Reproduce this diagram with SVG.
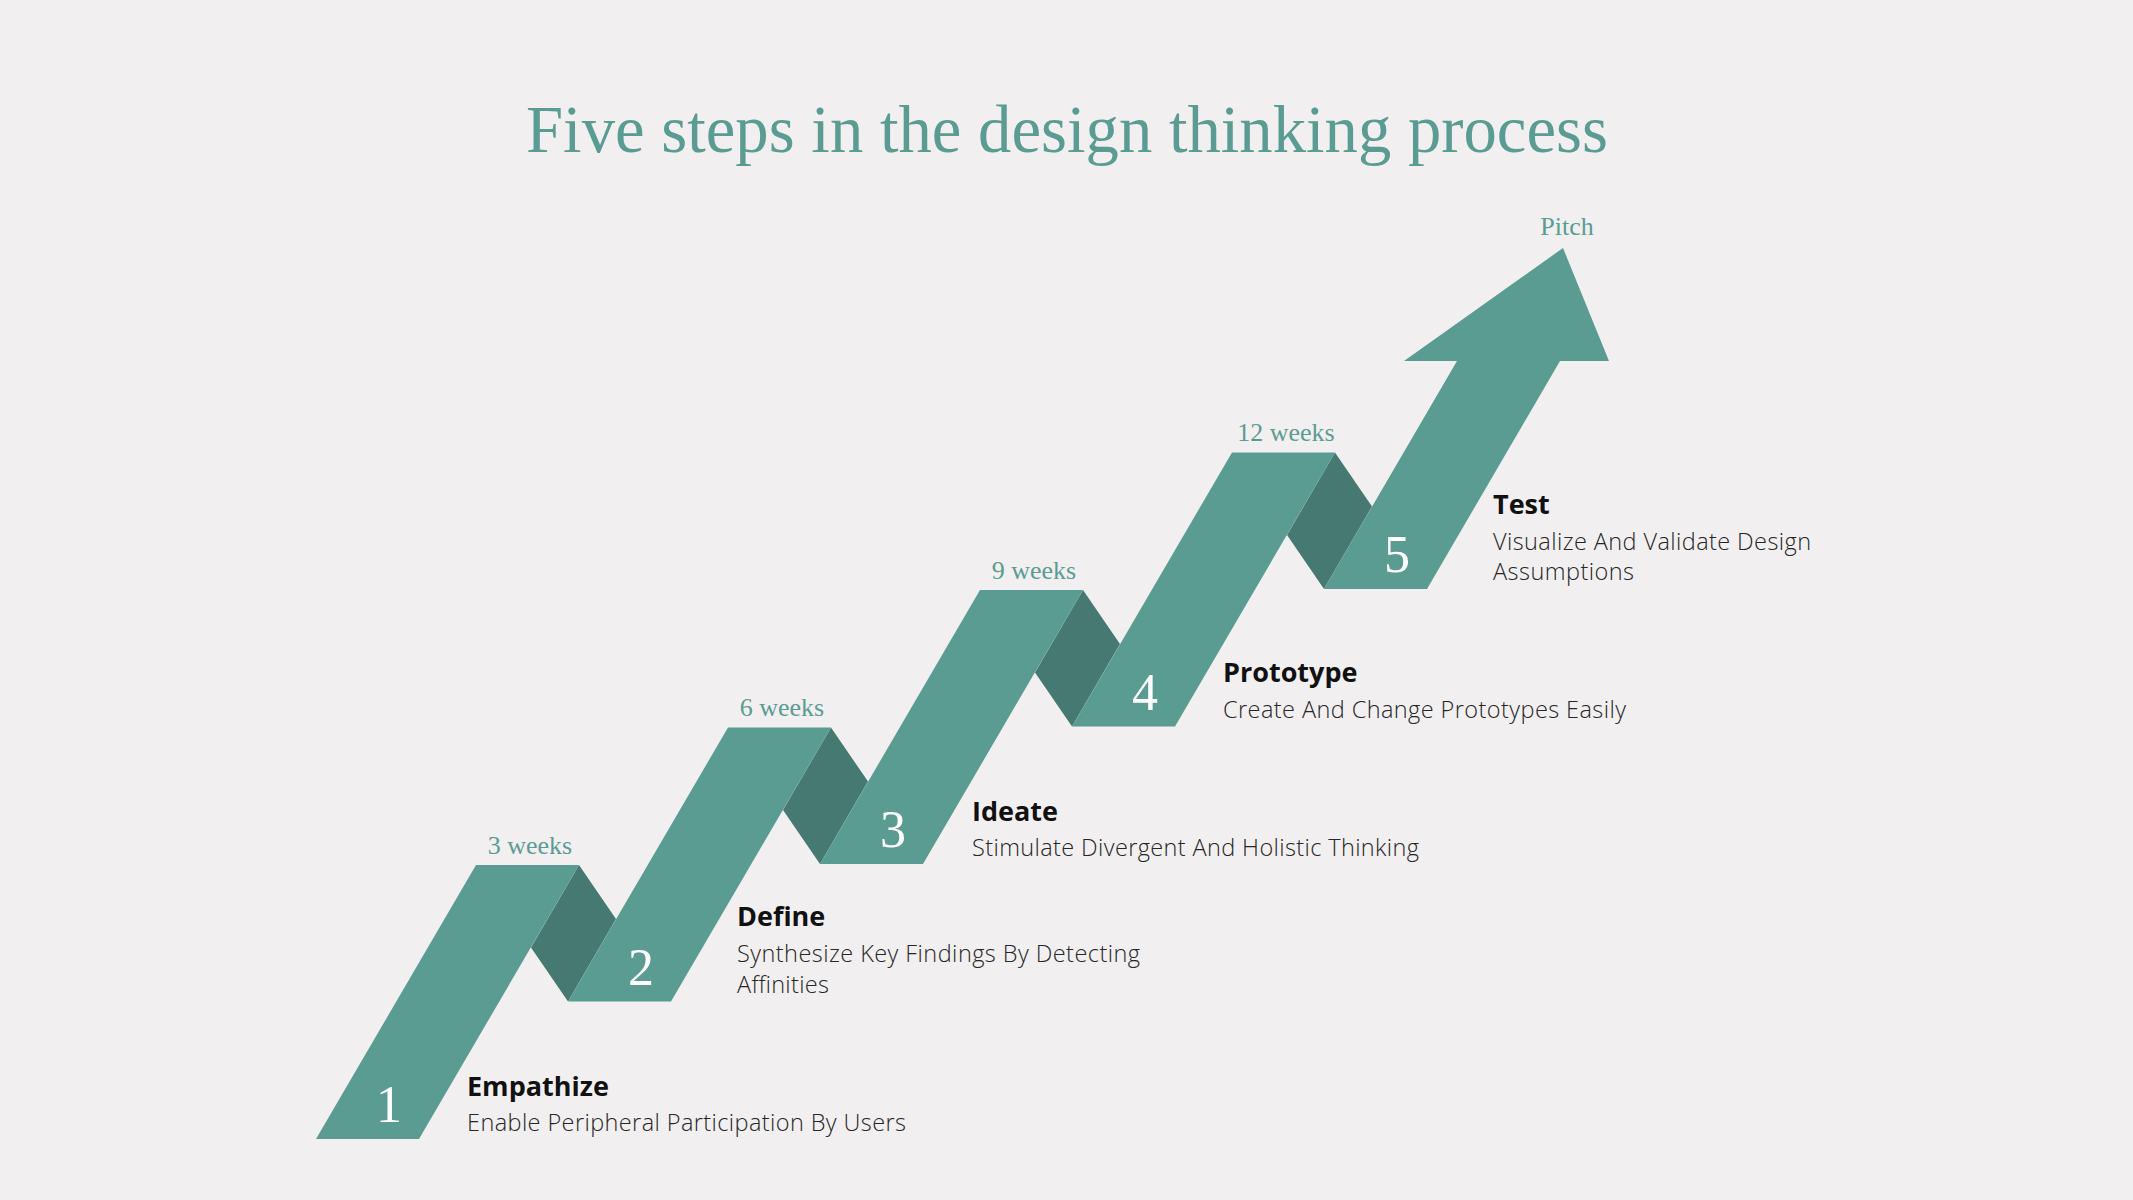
<svg xmlns="http://www.w3.org/2000/svg" width="2133" height="1200" viewBox="0 0 2133 1200">
<style>
.bg{fill:#f1eff0}
.seg{fill:#5b9c92}
.fold{fill:#467971}
.num{font-family:"Liberation Serif","DejaVu Serif",serif;font-size:52px;fill:#ffffff;text-anchor:middle}
.wk{font-family:"Liberation Serif","DejaVu Serif",serif;font-size:26px;fill:#5b9c92;text-anchor:middle}
.ttl{font-family:"Open Sans","Noto Sans","Liberation Sans",sans-serif;font-size:27px;font-weight:700;fill:#111111}
.dsc{font-family:"Open Sans","Noto Sans","Liberation Sans",sans-serif;font-size:23.5px;font-weight:300;fill:#262626}
.head{font-family:"Liberation Serif","DejaVu Serif",serif;font-size:68px;fill:#5b9c92;text-anchor:middle}
</style>
<rect class="bg" x="0" y="0" width="2133" height="1200"/>
<text class="head" x="1067" y="152" textLength="1082" lengthAdjust="spacingAndGlyphs">Five steps in the design thinking process</text>
<g id="connectors">
<polygon class="fold" points="579,865 616,919 568,1001.5 531,947.5"/>
<polygon class="fold" points="831,727.5 868,781.5 820,864 783,810"/>
<polygon class="fold" points="1083,590 1120,644 1072,726.5 1035,672.5"/>
<polygon class="fold" points="1335,452.5 1372,506.5 1324,589 1287,535"/>
</g>
<g id="step1">
<polygon class="seg" points="316,1139 419,1139 579,865 476,865"/>
<text class="num" x="389" y="1122">1</text>
<text class="wk" x="530" y="854">3 weeks</text>
<text class="ttl" x="467" y="1096">Empathize</text>
<text class="dsc" x="467" y="1131" textLength="439" lengthAdjust="spacing">Enable Peripheral Participation By Users</text>
</g>
<g id="step2">
<polygon class="seg" points="568,1001.5 671,1001.5 831,727.5 728,727.5"/>
<text class="num" x="641" y="984.5">2</text>
<text class="wk" x="782" y="716">6 weeks</text>
<text class="ttl" x="737" y="926">Define</text>
<text class="dsc" x="737" y="962" textLength="403" lengthAdjust="spacing">Synthesize Key Findings By Detecting</text>
<text class="dsc" x="737" y="993" textLength="92" lengthAdjust="spacing">Affinities</text>
</g>
<g id="step3">
<polygon class="seg" points="820,864 923,864 1083,590 980,590"/>
<text class="num" x="893" y="847">3</text>
<text class="wk" x="1034" y="578.5">9 weeks</text>
<text class="ttl" x="972" y="821">Ideate</text>
<text class="dsc" x="972" y="856" textLength="447" lengthAdjust="spacing">Stimulate Divergent And Holistic Thinking</text>
</g>
<g id="step4">
<polygon class="seg" points="1072,726.5 1175,726.5 1335,452.5 1232,452.5"/>
<text class="num" x="1145" y="709.5">4</text>
<text class="wk" x="1286" y="441">12 weeks</text>
<text class="ttl" x="1223" y="682">Prototype</text>
<text class="dsc" x="1223" y="718" textLength="403" lengthAdjust="spacing">Create And Change Prototypes Easily</text>
</g>
<g id="step5">
<polygon class="seg" points="1324,589 1427,589 1560,361 1609,361 1563,248 1404,361 1457,361"/>
<text class="num" x="1397" y="572">5</text>
<text class="wk" x="1567" y="235">Pitch</text>
<text class="ttl" x="1493" y="514">Test</text>
<text class="dsc" x="1493" y="550" textLength="318" lengthAdjust="spacing">Visualize And Validate Design</text>
<text class="dsc" x="1493" y="580" textLength="141" lengthAdjust="spacing">Assumptions</text>
</g>
</svg>
